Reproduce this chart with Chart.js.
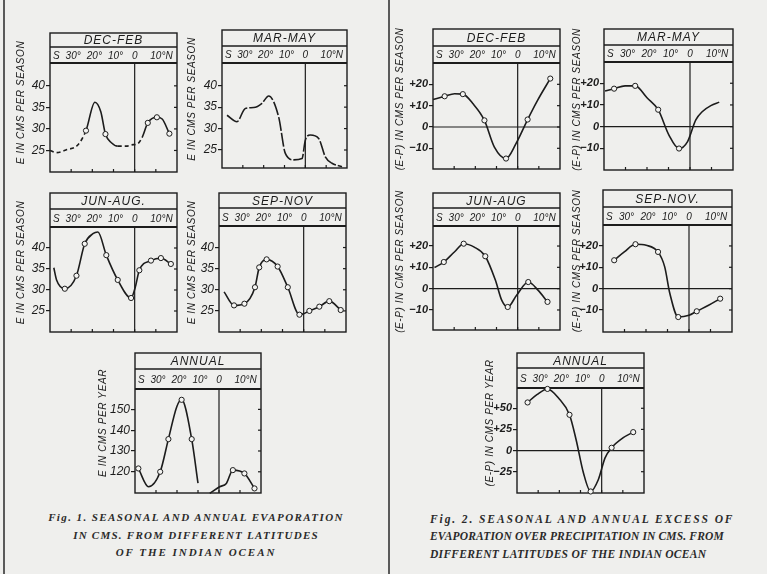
<!DOCTYPE html>
<html>
<head>
<meta charset="UTF-8">
<script src="https://cdn.jsdelivr.net/npm/chart.js@4.4.0/dist/chart.umd.min.js"></script>
<style>
  body { margin: 0; background: #eeeeec; }
  #page { position: relative; width: 767px; height: 574px; overflow: hidden; background: #efefed; }
  canvas { position: absolute; }
  .rule { position: absolute; top: 0; width: 2px; height: 574px; background: #5a5a5a; }
  .cap { position: absolute; font: italic bold 11px "Liberation Serif"; color: #2a2a2a; white-space: nowrap; }
  .c1 { left: 0; width: 392px; text-align: center; }
  .c2 { left: 430px; font-size: 11.5px; }
</style>
</head>
<body>
<div id="page">
  <div class="rule" style="left:3px"></div>
  <div class="rule" style="left:388px"></div>
  <div class="cap c1" style="top:511px;letter-spacing:1.4px">Fig. 1. SEASONAL AND ANNUAL EVAPORATION</div>
  <div class="cap c1" style="top:529px;letter-spacing:1.25px">IN CMS. FROM DIFFERENT LATITUDES</div>
  <div class="cap c1" style="top:546px;letter-spacing:1.95px">OF THE INDIAN OCEAN</div>
  <div class="cap c2" style="top:513px;letter-spacing:1.9px">Fig. 2. SEASONAL AND ANNUAL EXCESS OF</div>
  <div class="cap c2" style="top:530px;letter-spacing:0.15px">EVAPORATION OVER PRECIPITATION IN CMS. FROM</div>
  <div class="cap c2" style="top:548px;letter-spacing:0.3px">DIFFERENT LATITUDES OF THE INDIAN OCEAN</div>
</div>
<script>
// latitude: negative = south
const latTicks = [-30, -20, -10, 0, 10];
const latLabels = ['30°', '20°', '10°', '0', '10°N'];

const eTicks = [25, 30, 35, 40];
const eYearTicks = [120, 130, 140, 150];
const epTicks = [-10, 0, 10, 20];
const epYearTicks = [-25, 0, 25, 50];

// Fig 1 : evaporation
const lat1 = [-40, -37, -32, -27, -23, -18.8, -16, -13.8, -11, -8, -4, -1.5, 1.5, 3.5, 6.2, 10.5, 13, 16.4];
const val1 = [25, 24.5, 25.2, 26.2, 29.6, 36.2, 34, 28.8, 26.8, 26, 26, 26.3, 26.6, 28, 31.4, 32.7, 32.3, 28.9];
const mark1 = [4, 7, 14, 15, 17];

const lat2 = [-37.6, -32.8, -28.8, -24.8, -20.8, -17.6, -12.8, -9.6, -5.6, -1.6, 0, 2.4, 6.4, 9.6, 12.8, 17.6];
const val2 = [33.1, 31.6, 34.7, 34.9, 35.9, 37.6, 32.7, 24.2, 22.7, 23, 27.3, 28.5, 27.7, 23.4, 21.9, 21.1];
const mark2 = [];

const lat3 = [-38.2, -36.9, -33, -27.5, -23.6, -19.7, -17.4, -13.4, -8, -1.7, 0.2, 2.2, 7.7, 12.4, 17.1];
const val3 = [35.3, 32.4, 30.3, 33.4, 41, 43.4, 43.8, 38.3, 32.4, 28.1, 30.5, 34.7, 37, 37.6, 36.2];
const mark3 = [2, 3, 4, 7, 8, 9, 11, 12, 13, 14];

const lat4 = [-37.6, -32.9, -28, -23, -21, -17.5, -12.3, -7.5, -2, 0, 2.7, 7.4, 12.1, 17.5];
const val4 = [29.5, 26.3, 26.7, 30.6, 35.3, 37.2, 35.5, 30.6, 24.1, 24.3, 25, 26, 27.3, 25.2];
const mark4 = [1, 2, 3, 4, 5, 6, 7, 8, 10, 11, 12, 13];

const lat5 = [-38.4, -33.6, -28, -24.1, -20.1, -17.8, -13, -10, -7, -4.4, 0.3, 3.5, 6.6, 12.1, 16.9];
const val5 = [121.6, 112.8, 120, 135.7, 151.3, 154.6, 135.7, 114.5, null, 109.6, 112.8, 114.4, 120.8, 119.2, 112];
const mark5 = [0, 2, 3, 5, 6, 12, 13, 14];

// Fig 2 : evaporation minus precipitation
const lat6 = [-40, -34.5, -29.8, -25.9, -21.2, -15.7, -11, -5.5, -0.8, 4.7, 9.4, 15.4];
const val6 = [12.9, 14.4, 15.6, 15.4, 11, 3.1, -9.4, -14.8, -7.8, 3.5, 12.5, 22.7];
const mark6 = [1, 3, 5, 7, 9, 11];

const lat7 = [-39.5, -35.3, -30.2, -25.5, -20, -14.8, -9.8, -5.1, -1.2, 2.7, 5.8, 9.7, 13.6];
const val7 = [16.4, 17.5, 18.8, 18.8, 13.3, 7.8, -3.9, -10.1, -7, 3.1, 7, 9.7, 11.3];
const mark7 = [1, 3, 5, 7];

const lat8 = [-39.3, -34.9, -29.9, -25.5, -20.5, -15.3, -10.5, -7.5, -4.7, -0.5, 5, 9.7, 14.1];
const val8 = [9.9, 12.5, 17.2, 21.1, 19.5, 15.2, 3.9, -5.5, -8.6, -3.1, 3.1, -0.8, -6.2];
const mark8 = [1, 3, 5, 8, 10, 12];

const lat9 = [-34.8, -30.1, -24.9, -19.9, -14.4, -11.3, -8.9, -5, 0, 3.6, 9.1, 14.5];
const val9 = [13.3, 17.2, 20.8, 20.3, 17.2, 10.2, -2.3, -13.3, -12.5, -10.6, -7.8, -4.7];
const mark9 = [0, 2, 4, 7, 9, 11];

const lat10 = [-35, -30.6, -25.6, -20.4, -15.2, -12.1, -8.6, -5.2, -1.6, 1.6, 4.7, 10.2, 14.9];
const val10 = [56.9, 66.1, 72.9, 62.2, 42.3, 13.1, -26.5, -48.4, -34.5, -8.6, 3.3, 15.2, 21.8];
const mark10 = [0, 2, 4, 7, 10, 12];

const INK = '#1c1c1c';
const EY = 'E IN CMS PER SEASON', EPY = '(E-P) IN CMS PER SEASON';
const MARGIN = 16;  // extra canvas room above/below each box for the rotated axis title

// box edges in page px: L R T (title row bottom) T1 (header bottom) T2 B
const panels = [
  { title: 'DEC-FEB', lat: lat1, val: val1, mark: mark1, ticks: eTicks, ymin: 20, ymax: 45.3, L: 50, R: 178, T: 33, T1: 47, T2: 63, B: 172, yt: EY, ytx: 29, dash: [0, 1, 2, 3, 9, 10, 11, 12] },
  { title: 'MAR-MAY', lat: lat2, val: val2, mark: mark2, ticks: eTicks, ymin: 20.8, ymax: 45.3, L: 222, R: 347, T: 30, T1: 46, T2: 63, B: 168, yt: EY, ytx: 30, dashAll: true },
  { title: 'JUN-AUG.', lat: lat3, val: val3, mark: mark3, ticks: eTicks, ymin: 20, ymax: 45, L: 50, R: 178, T: 193, T1: 209, T2: 227, B: 332, yt: EY, ytx: 29 },
  { title: 'SEP-NOV', lat: lat4, val: val4, mark: mark4, ticks: eTicks, ymin: 20, ymax: 45.1, L: 219, R: 347, T: 193, T1: 208, T2: 226, B: 332, yt: EY, ytx: 27 },
  { title: 'ANNUAL', lat: lat5, val: val5, mark: mark5, ticks: eYearTicks, ymin: 109.8, ymax: 159.8, L: 135, R: 262, T: 353, T1: 369, T2: 389, B: 493, yt: 'E IN CMS PER YEAR', ytx: 32 },
  { title: 'DEC-FEB', lat: lat6, val: val6, mark: mark6, ticks: epTicks, ymin: -19.7, ymax: 30, L: 433, R: 561, T: 29, T1: 46, T2: 63, B: 169, yt: EPY, ytx: 33, ep: true },
  { title: 'MAR-MAY', lat: lat7, val: val7, mark: mark7, ticks: epTicks, ymin: -20, ymax: 29.8, L: 604, R: 733, T: 29, T1: 45, T2: 62, B: 170, yt: EPY, ytx: 27, ep: true },
  { title: 'JUN-AUG', lat: lat8, val: val8, mark: mark8, ticks: epTicks, ymin: -19.4, ymax: 29.4, L: 433, R: 561, T: 193, T1: 208, T2: 226, B: 330, yt: EPY, ytx: 33, ep: true },
  { title: 'SEP-NOV.', lat: lat9, val: val9, mark: mark9, ticks: epTicks, ymin: -20.3, ymax: 29.8, L: 603, R: 733, T: 190, T1: 207, T2: 225, B: 332, yt: EPY, ytx: 26, ep: true },
  { title: 'ANNUAL', lat: lat10, val: val10, mark: mark10, ticks: epYearTicks, ymin: -50.2, ymax: 74, L: 517, R: 645, T: 353, T1: 368, T2: 388, B: 493, yt: '(E-P) IN CMS PER YEAR', ytx: 27, ep: true }
];

function seg(ctx, x1, y1, x2, y2) {
  ctx.beginPath(); ctx.moveTo(x1, y1); ctx.lineTo(x2, y2); ctx.stroke();
}

const panelPlugin = {
  id: 'panel',
  beforeDatasetsDraw(chart, args, o) {
    const ctx = chart.ctx, a = chart.chartArea;
    const x = chart.scales.x, y = chart.scales.y;
    const top = a.top - o.head, mid = top + o.row1;
    ctx.save();
    ctx.strokeStyle = INK;
    ctx.lineWidth = 1.4;
    ctx.strokeRect(a.left, top, a.right - a.left, a.bottom - top);
    seg(ctx, a.left, mid, a.right, mid);
    ctx.lineWidth = 2.2;
    seg(ctx, a.left, a.top, a.right, a.top);
    ctx.lineWidth = 1.2;
    const x0 = x.getPixelForValue(0);
    seg(ctx, x0, a.top, x0, a.bottom);
    if (o.hzero) {
      const y0 = y.getPixelForValue(0);
      seg(ctx, a.left, y0, a.right, y0);
    }
    latTicks.forEach(v => {
      const px = x.getPixelForValue(v);
      seg(ctx, px, a.bottom, px, a.bottom - 3);
    });
    y.ticks.forEach(t => {
      const py = y.getPixelForValue(t.value);
      seg(ctx, a.right, py, a.right - 3, py);
    });

    ctx.fillStyle = INK;
    ctx.textBaseline = 'middle';
    ctx.textAlign = 'center';
    ctx.font = 'italic 12px "Liberation Sans"';
    ctx.letterSpacing = '1px';
    ctx.fillText(o.title, (a.left + a.right) / 2, (top + mid) / 2 + 1);

    ctx.font = 'italic 10px "Liberation Sans"';
    ctx.letterSpacing = '0px';
    ctx.textAlign = 'left';
    const ly = (mid + a.top) / 2 + 1;
    ctx.fillText('S', a.left + 3, ly);
    latTicks.forEach((v, i) => {
      const px = x.getPixelForValue(v);
      const num = latLabels[i].replace(/[°N]/g, '');
      ctx.fillText(latLabels[i], px - ctx.measureText(num).width / 2, ly);
    });

    ctx.translate(a.left - o.ytx, (top + a.bottom) / 2);
    ctx.rotate(-Math.PI / 2);
    ctx.textAlign = 'center';
    ctx.font = 'italic 10px "Liberation Sans"';
    ctx.letterSpacing = '0.6px';
    ctx.fillText(o.yt, 0, 0);
    ctx.restore();
  }
};

const page = document.getElementById('page');

function fmt(v, ep) {
  if (!ep) return String(v);
  if (v > 0) return '+' + v;
  if (v < 0) return '\u2212' + Math.abs(v);
  return '0';
}

panels.forEach(p => {
  const cv = document.createElement('canvas');
  cv.width = p.R - p.L + 44;
  cv.height = p.B - p.T + 2 * MARGIN;
  cv.style.left = (p.L - 40) + 'px';
  cv.style.top = (p.T - MARGIN) + 'px';
  page.appendChild(cv);

  const pts = p.lat.map((lx, i) => ({ x: lx, y: p.val[i] }));
  new Chart(cv, {
    type: 'line',
    data: {
      datasets: [{
        data: pts,
        borderColor: INK,
        borderWidth: 1.6,
        borderDash: p.dashAll ? [14, 2] : [],
        tension: 0.4,
        cubicInterpolationMode: 'monotone',
        spanGaps: false,
        clip: false,
        pointRadius: pts.map((d, i) => p.mark.includes(i) ? 2.6 : 0),
        pointBackgroundColor: '#f4f4f2',
        pointBorderColor: INK,
        pointBorderWidth: 1,
        segment: {
          borderDash: c => (p.dash && p.dash.includes(c.p0DataIndex)) ? [4, 3] : undefined
        }
      }]
    },
    options: {
      responsive: false,
      animation: false,
      events: [],
      layout: { padding: { top: p.T2 - p.T + MARGIN, bottom: MARGIN, right: 4, left: 0 } },
      plugins: {
        legend: { display: false },
        tooltip: { enabled: false },
        panel: { title: p.title, head: p.T2 - p.T, row1: p.T1 - p.T, yt: p.yt, ytx: p.ytx, hzero: !!p.ep }
      },
      scales: {
        x: { type: 'linear', display: false, min: -40, max: 20 },
        y: {
          min: p.ymin,
          max: p.ymax,
          afterBuildTicks: s => { s.ticks = p.ticks.map(v => ({ value: v })); },
          afterFit: s => { s.width = 40; },
          border: { display: false },
          grid: { drawOnChartArea: false, drawTicks: true, tickLength: 4, color: INK, lineWidth: 1.2 },
          ticks: {
            color: INK,
            padding: 1,
            font: p.ep ? { family: 'Liberation Sans', style: 'italic', weight: 'bold', size: 11 }
                       : { family: 'Liberation Sans', style: 'italic', size: 12 },
            callback: v => fmt(v, p.ep)
          }
        }
      }
    },
    plugins: [panelPlugin]
  });
});
</script>
</body>
</html>
